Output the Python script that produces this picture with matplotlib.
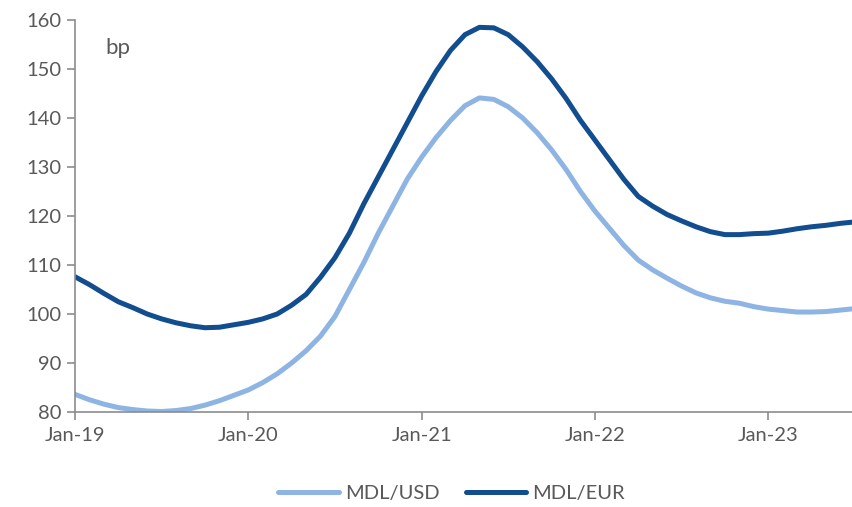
import matplotlib
matplotlib.use("Agg")
from matplotlib import pyplot as plt

# Data (monthly, Jan-19 .. Jul-23)
months = list(range(55))
mdl_usd = [83.6, 82.5, 81.6, 80.9, 80.5, 80.2, 80.1, 80.3, 80.7, 81.4,
           82.3, 83.4, 84.5, 86.0, 87.8, 90.0, 92.5, 95.5, 99.5, 105.0,
           110.5, 116.5, 122.0, 127.5, 132.0, 136.0, 139.5, 142.5, 144.1, 143.8,
           142.3, 140.0, 137.0, 133.5, 129.5, 125.0, 121.0, 117.5, 114.0, 111.0,
           109.0, 107.3, 105.7, 104.3, 103.3, 102.6, 102.2, 101.5, 101.0, 100.7,
           100.4, 100.4, 100.5, 100.8, 101.1]
mdl_eur = [107.6, 106.0, 104.2, 102.5, 101.3, 100.0, 99.0, 98.2, 97.6, 97.2,
           97.3, 97.8, 98.3, 99.0, 100.0, 101.8, 104.0, 107.5, 111.5, 116.5,
           122.5, 128.0, 133.5, 139.0, 144.5, 149.5, 153.8, 157.0, 158.5, 158.4,
           157.0, 154.5, 151.5, 148.0, 144.0, 139.5, 135.5, 131.5, 127.5, 124.0,
           122.0, 120.3, 119.0, 117.8, 116.8, 116.2, 116.2, 116.4, 116.5, 116.9,
           117.4, 117.8, 118.1, 118.5, 118.8]
tick_pos = [0, 12, 24, 36, 48]
tick_labels = ['Jan-19', 'Jan-20', 'Jan-21', 'Jan-22', 'Jan-23']

plt.rcParams['font.family'] = ['Lato', 'DejaVu Sans']
grey = '#595959'

fig = plt.figure(figsize=(8.52, 5.07), dpi=100)
ax = fig.add_axes([75/852, 1-412/507, 1-75/852, 392/507])

ax.plot(months, mdl_usd, color='#8DB4E2', lw=3.6, label='MDL/USD', solid_capstyle='round')
ax.plot(months, mdl_eur, color='#114D8F', lw=3.6, label='MDL/EUR', solid_capstyle='round')

ax.set_xlim(0, 53.8)
ax.set_ylim(80, 160)
ax.set_yticks(range(80, 161, 10))
ax.set_xticks(tick_pos)
ax.set_xticklabels(tick_labels)

for s in ['top', 'right']:
    ax.spines[s].set_visible(False)
for s in ['left', 'bottom']:
    ax.spines[s].set_color('#8c8c8c')
    ax.spines[s].set_linewidth(1.2)
ax.tick_params(axis='both', colors='#8c8c8c', labelcolor=grey, labelsize=14.5,
               length=6, width=1.2, direction='out')
ax.tick_params(axis='x', pad=5)
ax.tick_params(axis='y', pad=4)

ax.text(105/852, 1-48/507, 'bp', transform=fig.transFigure, fontsize=16,
        color=grey, va='center')

fig.legend(loc='center', bbox_to_anchor=(0.53, 1-493/507), ncol=2, frameon=False,
           fontsize=14.5, labelcolor=grey, handlelength=3.0, columnspacing=1.3,
           handletextpad=0.3)

fig.savefig('out.png', dpi=100)
